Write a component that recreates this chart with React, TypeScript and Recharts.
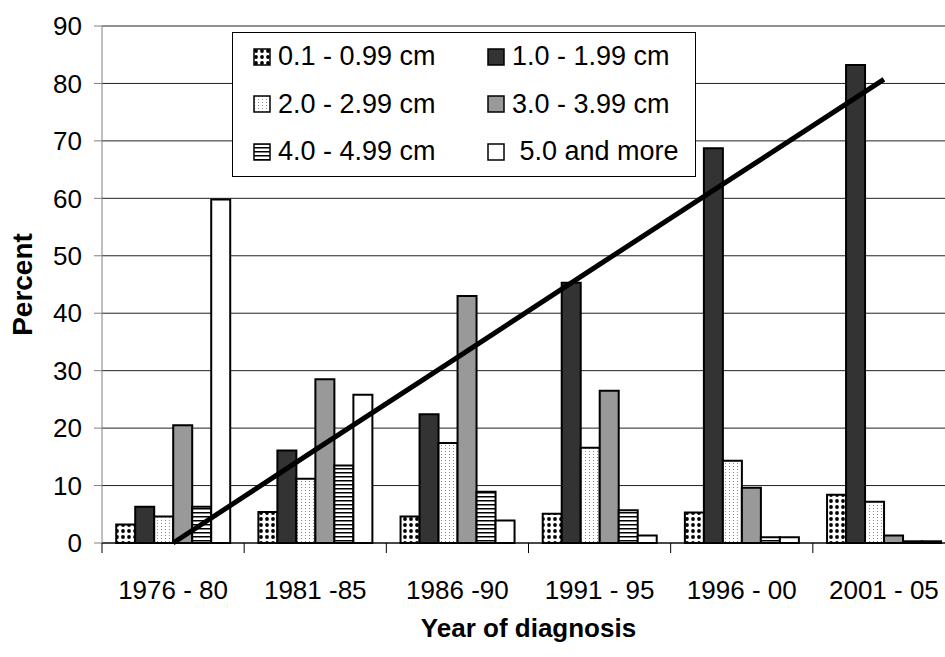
import React from "react";
import { ComposedChart, Bar, Line, XAxis, YAxis, CartesianGrid, Legend } from "recharts";

const periods = ["1976 - 80", "1981 -85", "1986 -90", "1991 - 95", "1996 - 00", "2001 - 05"];

// percent of tumours per size class
const size01 = [3.2, 5.4, 4.6, 5.1, 5.3, 8.4];
const size10 = [6.3, 16.1, 22.4, 45.3, 68.7, 83.2];
const size20 = [4.6, 11.2, 17.4, 16.6, 14.3, 7.2];
const size30 = [20.5, 28.5, 43.0, 26.5, 9.6, 1.3];
const size40 = [6.3, 13.5, 8.9, 5.7, 1.0, 0.3];
const size50 = [59.8, 25.8, 3.9, 1.3, 1.0, 0.3];

// linear trend of the 1.0 - 1.99 cm class
const trend = [0.0, 16.2, 32.3, 48.5, 64.6, 80.7];

const yTicks = [0, 10, 20, 30, 40, 50, 60, 70, 80, 90];

const data = periods.map((period, i) => ({
  period,
  s01: size01[i],
  s10: size10[i],
  s20: size20[i],
  s30: size30[i],
  s40: size40[i],
  s50: size50[i],
  trend: trend[i],
}));

const series = [
  { key: "s01", name: "0.1 - 0.99 cm", fill: "url(#dots)" },
  { key: "s10", name: "1.0 - 1.99 cm", fill: "#333333" },
  { key: "s20", name: "2.0 - 2.99 cm", fill: "url(#stipple)" },
  { key: "s30", name: "3.0 - 3.99 cm", fill: "#999999" },
  { key: "s40", name: "4.0 - 4.99 cm", fill: "url(#hlines)" },
  { key: "s50", name: " 5.0 and more", fill: "#ffffff" },
];

const font = "'Liberation Sans', Arial, Helvetica, sans-serif";

function PeriodTick(props: any) {
  const { x, y, payload } = props;
  const half = payload.offset ?? 0;
  return (
    <g>
      <line x1={x - half} y1={y} x2={x - half} y2={y + 10} stroke="#000" strokeWidth={1} />
      <text x={x} y={y + 56} textAnchor="middle" fontSize={26} fontFamily={font} fill="#000">
        {payload.value}
      </text>
    </g>
  );
}

function PercentLabel(props: any) {
  const vb = props.viewBox;
  const x = vb.x + 32;
  const y = vb.y + vb.height / 2;
  return (
    <text
      x={x}
      y={y}
      transform={`rotate(-90, ${x}, ${y})`}
      textAnchor="middle"
      fontSize={28}
      fontWeight="bold"
      fontFamily={font}
      fill="#000"
    >
      Percent
    </text>
  );
}

function YearLabel(props: any) {
  const vb = props.viewBox;
  return (
    <text
      x={vb.x + vb.width / 2}
      y={vb.y + 94}
      textAnchor="middle"
      fontSize={26}
      fontWeight="bold"
      fontFamily={font}
      fill="#000"
    >
      Year of diagnosis
    </text>
  );
}

// two-column legend box, keeps the series order
function SizeLegend(props: any) {
  const order = series.map((s) => s.key);
  const items = (props.payload || [])
    .filter((p: any) => p.type !== "none")
    .slice()
    .sort((a: any, b: any) => order.indexOf(a.dataKey) - order.indexOf(b.dataKey));
  return (
    <div
      style={{
        display: "grid",
        gridTemplateColumns: "234px auto",
        gridAutoRows: "47.5px",
        boxSizing: "border-box",
        width: 464,
        height: 145,
        paddingLeft: 20,
        border: "1px solid #000",
        background: "#fff",
        fontFamily: font,
        fontSize: 27,
        color: "#000",
      }}
    >
      {items.map((item: any) => (
        <div key={item.dataKey} style={{ display: "flex", alignItems: "center", whiteSpace: "pre" }}>
          <svg width={18} height={18} style={{ marginRight: 7, flex: "none" }}>
            <rect x={1} y={1} width={16} height={16} fill={item.color} stroke="#000" strokeWidth={1.5} />
          </svg>
          <span>{item.value}</span>
        </div>
      ))}
    </div>
  );
}

export default function App() {
  return (
    <div style={{ position: "absolute", left: 0, top: 0, width: 945, height: 657, overflow: "hidden", background: "#fff" }}>
      <ComposedChart
        width={960}
        height={657}
        data={data}
        margin={{ top: 26, right: 5, bottom: 14, left: 0 }}
        barCategoryGap="10%"
        barGap={0}
      >
        <defs>
          <pattern id="dots" width={6} height={6} patternUnits="userSpaceOnUse">
            <rect width={6} height={6} fill="#fff" />
            <circle cx={3} cy={3} r={1.9} fill="#000" />
          </pattern>
          <pattern id="stipple" width={4} height={3} patternUnits="userSpaceOnUse">
            <rect width={4} height={3} fill="#fff" />
            <rect x={1} y={1} width={1} height={1} fill="#8a8a8a" />
          </pattern>
          <pattern id="hlines" width={4} height={4} patternUnits="userSpaceOnUse">
            <rect width={4} height={4} fill="#fff" />
            <rect x={0} y={0} width={4} height={1.5} fill="#000" />
          </pattern>
        </defs>
        <CartesianGrid vertical={false} stroke="#222" strokeWidth={1} />
        <XAxis
          dataKey="period"
          height={100}
          tickLine={false}
          tickSize={0}
          tickMargin={0}
          interval={0}
          stroke="#000"
          tick={<PeriodTick />}
          label={<YearLabel />}
        />
        <YAxis
          type="number"
          domain={[0, 90]}
          ticks={yTicks}
          interval={0}
          width={102}
          tickSize={8}
          tickMargin={12}
          stroke="#808080"
          tick={{ fill: "#000", fontSize: 26, fontFamily: font }}
          label={<PercentLabel />}
        />
        <Legend
          layout="horizontal"
          verticalAlign="middle"
          align="center"
          content={<SizeLegend />}
          wrapperStyle={{ left: 232, top: 32, width: 464, height: 145 }}
        />
        {series.map((s) => (
          <Bar
            key={s.key}
            dataKey={s.key}
            name={s.name}
            fill={s.fill}
            stroke="#000"
            strokeWidth={2}
            isAnimationActive={false}
          />
        ))}
        <Line
          type="linear"
          dataKey="trend"
          stroke="#000"
          strokeWidth={5}
          dot={false}
          activeDot={false}
          legendType="none"
          isAnimationActive={false}
        />
      </ComposedChart>
    </div>
  );
}
